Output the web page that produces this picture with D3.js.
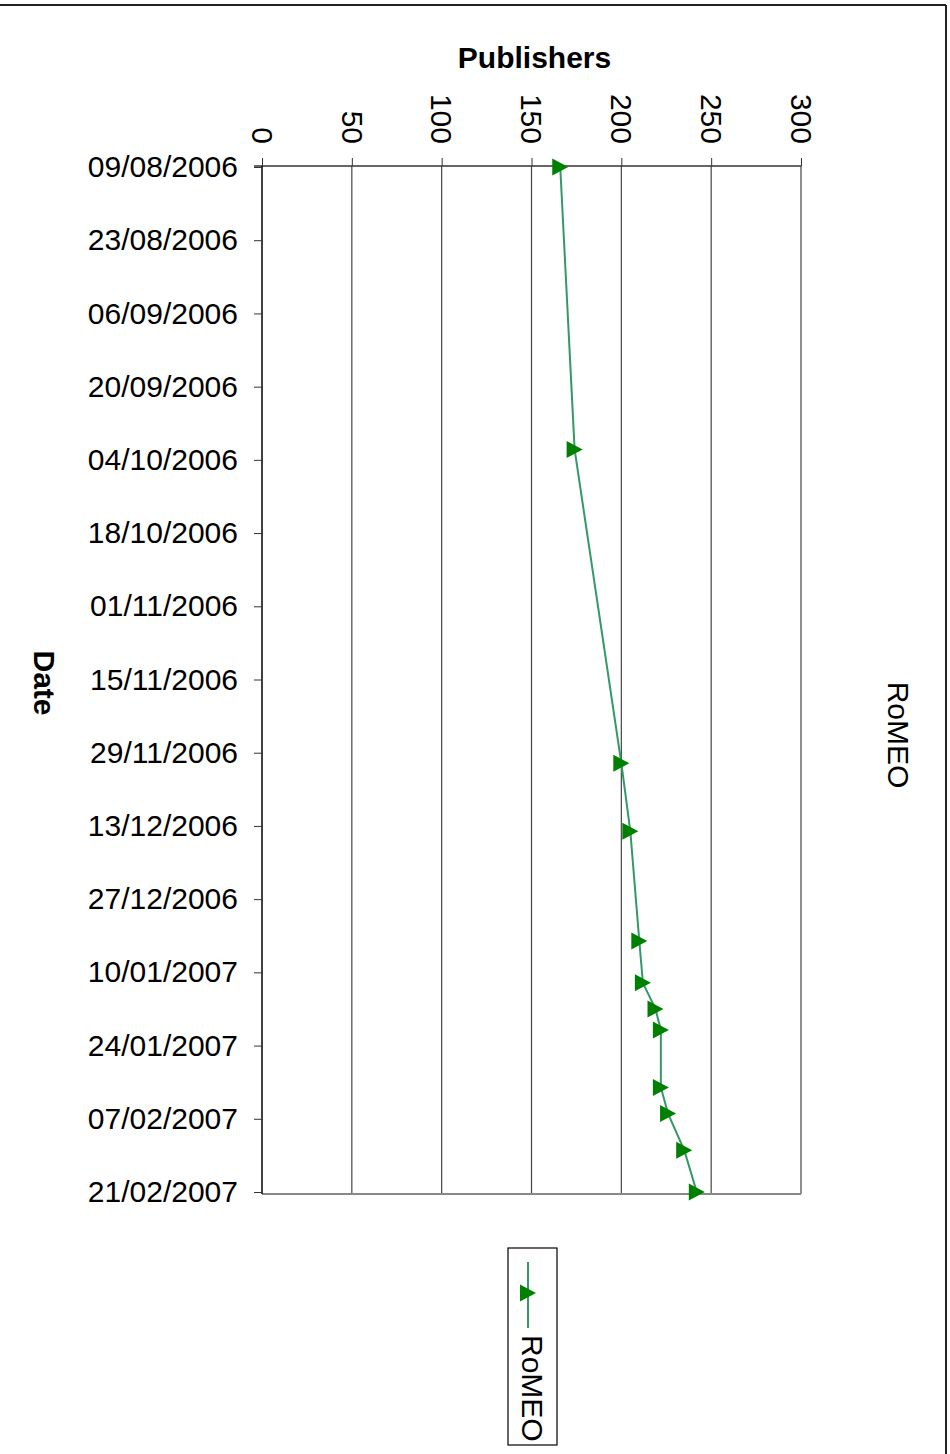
<!DOCTYPE html>
<html>
<head>
<meta charset="utf-8">
<script src="https://cdn.jsdelivr.net/npm/d3@7"></script>
<style>
  body { margin: 0; background: #fff; }
  text { font-family: "Liberation Sans", Arial, sans-serif; }
</style>
</head>
<body>
<div id="chart-area"></div>
<script>
// data
let dates = ["09/08/2006", "02/10/2006", "01/12/2006", "14/12/2006", "04/01/2007", "12/01/2007",
  "17/01/2007", "21/01/2007", "01/02/2007", "06/02/2007", "13/02/2007", "21/02/2007"]
let publishers = [166, 174, 200, 205, 210, 212, 219, 222, 222, 226, 235, 242]

let dateTicks = ["09/08/2006", "23/08/2006", "06/09/2006", "20/09/2006", "04/10/2006", "18/10/2006",
  "01/11/2006", "15/11/2006", "29/11/2006", "13/12/2006", "27/12/2006", "10/01/2007",
  "24/01/2007", "07/02/2007", "21/02/2007"]
let valueTicks = [0, 50, 100, 150, 200, 250, 300]

let seriesName = "RoMEO"

let width = 950
let height = 1454
let plot = { left: 262, right: 801, top: 166, bottom: 1194 }

let parseDate = d3.timeParse("%d/%m/%Y")

let svg = d3.select("#chart-area").append("svg")
  .attr("width", width)
  .attr("height", height)

// outer border (only top and right show)
svg.append("line").attr("x1", 0).attr("x2", 946).attr("y1", 5).attr("y2", 5)
  .attr("stroke", "#222").attr("stroke-width", 2)
svg.append("line").attr("x1", 946).attr("x2", 946).attr("y1", 5).attr("y2", height)
  .attr("stroke", "#222").attr("stroke-width", 2)

let x = d3.scaleLinear()
  .domain([0, 300])
  .range([plot.left, plot.right])

let y = d3.scaleTime()
  .domain([parseDate(dateTicks[0]), parseDate(dateTicks[dateTicks.length - 1])])
  .range([plot.top + 1, plot.bottom - 2])

// gridlines
svg.append("g").selectAll("line")
  .data(valueTicks.slice(1))
  .enter().append("line")
    .attr("x1", d => x(d)).attr("x2", d => x(d))
    .attr("y1", plot.top).attr("y2", plot.bottom)
    .attr("stroke", "#444").attr("stroke-width", 1.2)

svg.append("line")
  .attr("x1", plot.left).attr("x2", plot.right)
  .attr("y1", plot.bottom).attr("y2", plot.bottom)
  .attr("stroke", "#888").attr("stroke-width", 2)

// value axis along the top
let xAxis = svg.append("g")
  .attr("transform", "translate(0," + plot.top + ")")
  .call(d3.axisTop(x).tickValues(valueTicks).tickSize(8).tickSizeOuter(0).tickFormat(d3.format("d")))
xAxis.select(".domain").attr("stroke", "#333").attr("stroke-width", 1.5)
  .attr("d", "M" + (plot.left - 8) + ",0H" + plot.right)
xAxis.selectAll(".tick line").attr("stroke", "#333")
xAxis.selectAll(".tick text")
  .attr("font-size", 30)
  .attr("fill", "#000")
  .attr("text-anchor", "end")
  .attr("transform", "translate(0,-22) rotate(90)")
  .attr("x", 0).attr("y", 0).attr("dy", "0.36em")

// date axis down the left
let yAxis = svg.append("g")
  .attr("transform", "translate(" + plot.left + ",0)")
  .call(d3.axisLeft(y).tickValues(dateTicks.map(parseDate)).tickSize(8).tickSizeOuter(0)
    .tickFormat(d3.timeFormat("%d/%m/%Y")))
yAxis.select(".domain").attr("stroke", "#000").attr("stroke-width", 1.5)
  .attr("d", "M0," + plot.top + "V" + plot.bottom)
yAxis.selectAll(".tick line").attr("stroke", "#333")
yAxis.selectAll(".tick text")
  .attr("font-size", 30)
  .attr("fill", "#000")
  .attr("x", -24)

// axis titles
svg.append("text")
  .attr("x", (plot.left + plot.right) / 2 + 3).attr("y", 68)
  .attr("text-anchor", "middle").attr("font-size", 30).attr("font-weight", "bold")
  .text("Publishers")

svg.append("text")
  .attr("transform", "translate(45," + ((plot.top + plot.bottom) / 2 + 3) + ") rotate(90)")
  .attr("text-anchor", "middle").attr("dy", "0.36em").attr("font-size", 30).attr("font-weight", "bold")
  .text("Date")

svg.append("text")
  .attr("transform", "translate(899,735) rotate(90)")
  .attr("text-anchor", "middle").attr("dy", "0.36em").attr("font-size", 30)
  .text(seriesName)

// series
let points = dates.map((d, i) => ({ date: parseDate(d), value: publishers[i] }))

let line = d3.line()
  .x(d => x(d.value))
  .y(d => y(d.date))

svg.append("path")
  .datum(points)
  .attr("d", line)
  .attr("fill", "none")
  .attr("stroke", "#339966")
  .attr("stroke-width", 2)

let tri = "M-8,-8.5L8,0L-8,8.5Z"

svg.append("g").selectAll("path")
  .data(points)
  .enter().append("path")
    .attr("d", tri)
    .attr("transform", d => "translate(" + x(d.value) + "," + y(d.date) + ")")
    .attr("fill", "#008000")

// legend
let legend = svg.append("g")
svg.append("rect")
  .attr("x", 508).attr("y", 1248).attr("width", 49).attr("height", 197)
  .attr("fill", "none").attr("stroke", "#000").attr("stroke-width", 1.2)
legend.append("line")
  .attr("x1", 528).attr("x2", 528).attr("y1", 1262).attr("y2", 1328)
  .attr("stroke", "#339966").attr("stroke-width", 2)
legend.append("path")
  .attr("d", tri)
  .attr("transform", "translate(528,1293)")
  .attr("fill", "#008000")
legend.append("text")
  .attr("transform", "translate(533,1335) rotate(90)")
  .attr("dy", "0.36em").attr("font-size", 30)
  .text(seriesName)
</script>
</body>
</html>
